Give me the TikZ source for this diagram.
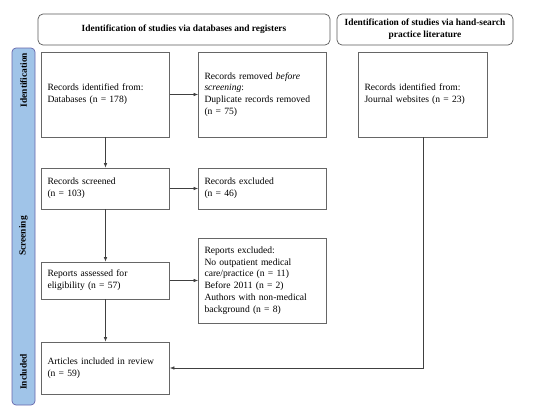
\documentclass[tikz,border=0pt]{standalone}
\usepackage{fontspec}
\setmainfont{Liberation Serif}
\usetikzlibrary{arrows.meta}
\begin{document}
\begin{tikzpicture}[x=1pt,y=-1pt,
  every node/.style={font=\fontsize{9.6}{11.8}\selectfont},
  box/.style={draw=black!60, line width=0.7pt, inner sep=0pt, text width=#1, align=left},
  hdr/.style={draw=black!65, line width=0.7pt, rounded corners=5pt, align=center, font=\fontsize{9.4}{12}\selectfont\bfseries},
  side/.style={rotate=90, font=\fontsize{9.4}{11}\selectfont\bfseries},
  arr/.style={draw=black!75, line width=0.6pt, -{Latex[length=4.5pt,width=3.5pt]}}
]
\useasboundingbox (0,0) rectangle (550,407);
% headers
\node[hdr, minimum width=292pt, minimum height=31pt] (h1) at (184,29.5) {Identification of studies via databases and registers};
\node[hdr, minimum width=176pt, minimum height=31pt] (h2) at (425,29.5) {Identification of studies via hand-search\\practice literature};
% sidebar
\draw[draw=black!55!blue!60, fill={rgb,255:red,160;green,196;blue,232}, line width=0.7pt, rounded corners=4pt] (12,48) rectangle (35,405);
\node[side] (sid) at (23.5,80) {Identification};
\node[side] (sscr) at (23.5,236) {Screening};
\node[side] (sinc) at (23.5,372) {Included};
% boxes
\node[box=116pt, minimum width=127pt, minimum height=85pt, inner xsep=6pt] (rid) at (105.5,94.5) {Records identified from:\\Databases (n = 178)};
\node[box=116pt, minimum width=127pt, minimum height=85pt, inner xsep=6pt] (rrm) at (262.5,94.5) {Records removed \textit{before}\\\textit{screening}:\\Duplicate records removed\\(n = 75)};
\node[box=117pt, minimum width=128pt, minimum height=85pt, inner xsep=6pt] (jw) at (423,94.5) {Records identified from:\\Journal websites (n = 23)};
\node[box=116pt, minimum width=127pt, minimum height=41pt, inner xsep=6pt] (rsc) at (105.5,188.5) {Records screened\\(n = 103)};
\node[box=116pt, minimum width=127pt, minimum height=41pt, inner xsep=6pt] (rex) at (262.5,188.5) {Records excluded\\(n = 46)};
\node[box=116pt, minimum width=127pt, minimum height=85pt, inner xsep=6pt] (rpx) at (262.5,280.5) {Reports excluded:\\No outpatient medical\\care/practice (n = 11)\\Before 2011 (n = 2)\\Authors with non-medical\\background (n = 8)};
\node[box=116pt, minimum width=127pt, minimum height=37pt, inner xsep=6pt] (ras) at (105.5,280.5) {Reports assessed for\\eligibility (n = 57)};
\node[box=116pt, minimum width=127pt, minimum height=52pt, inner xsep=6pt] (art) at (105.5,368) {Articles included in review\\(n = 59)};
% arrows
\draw[arr] (rid) -- (rrm);
\draw[arr] (rid) -- (rsc);
\draw[arr] (rsc) -- (rex);
\draw[arr] (rsc) -- (ras);
\draw[arr] (ras) -- (rpx);
\draw[arr] (ras) -- (art);
\draw[arr] (jw.south) -- (jw.south |- art.east) -- (art.east);
\end{tikzpicture}
\end{document}
